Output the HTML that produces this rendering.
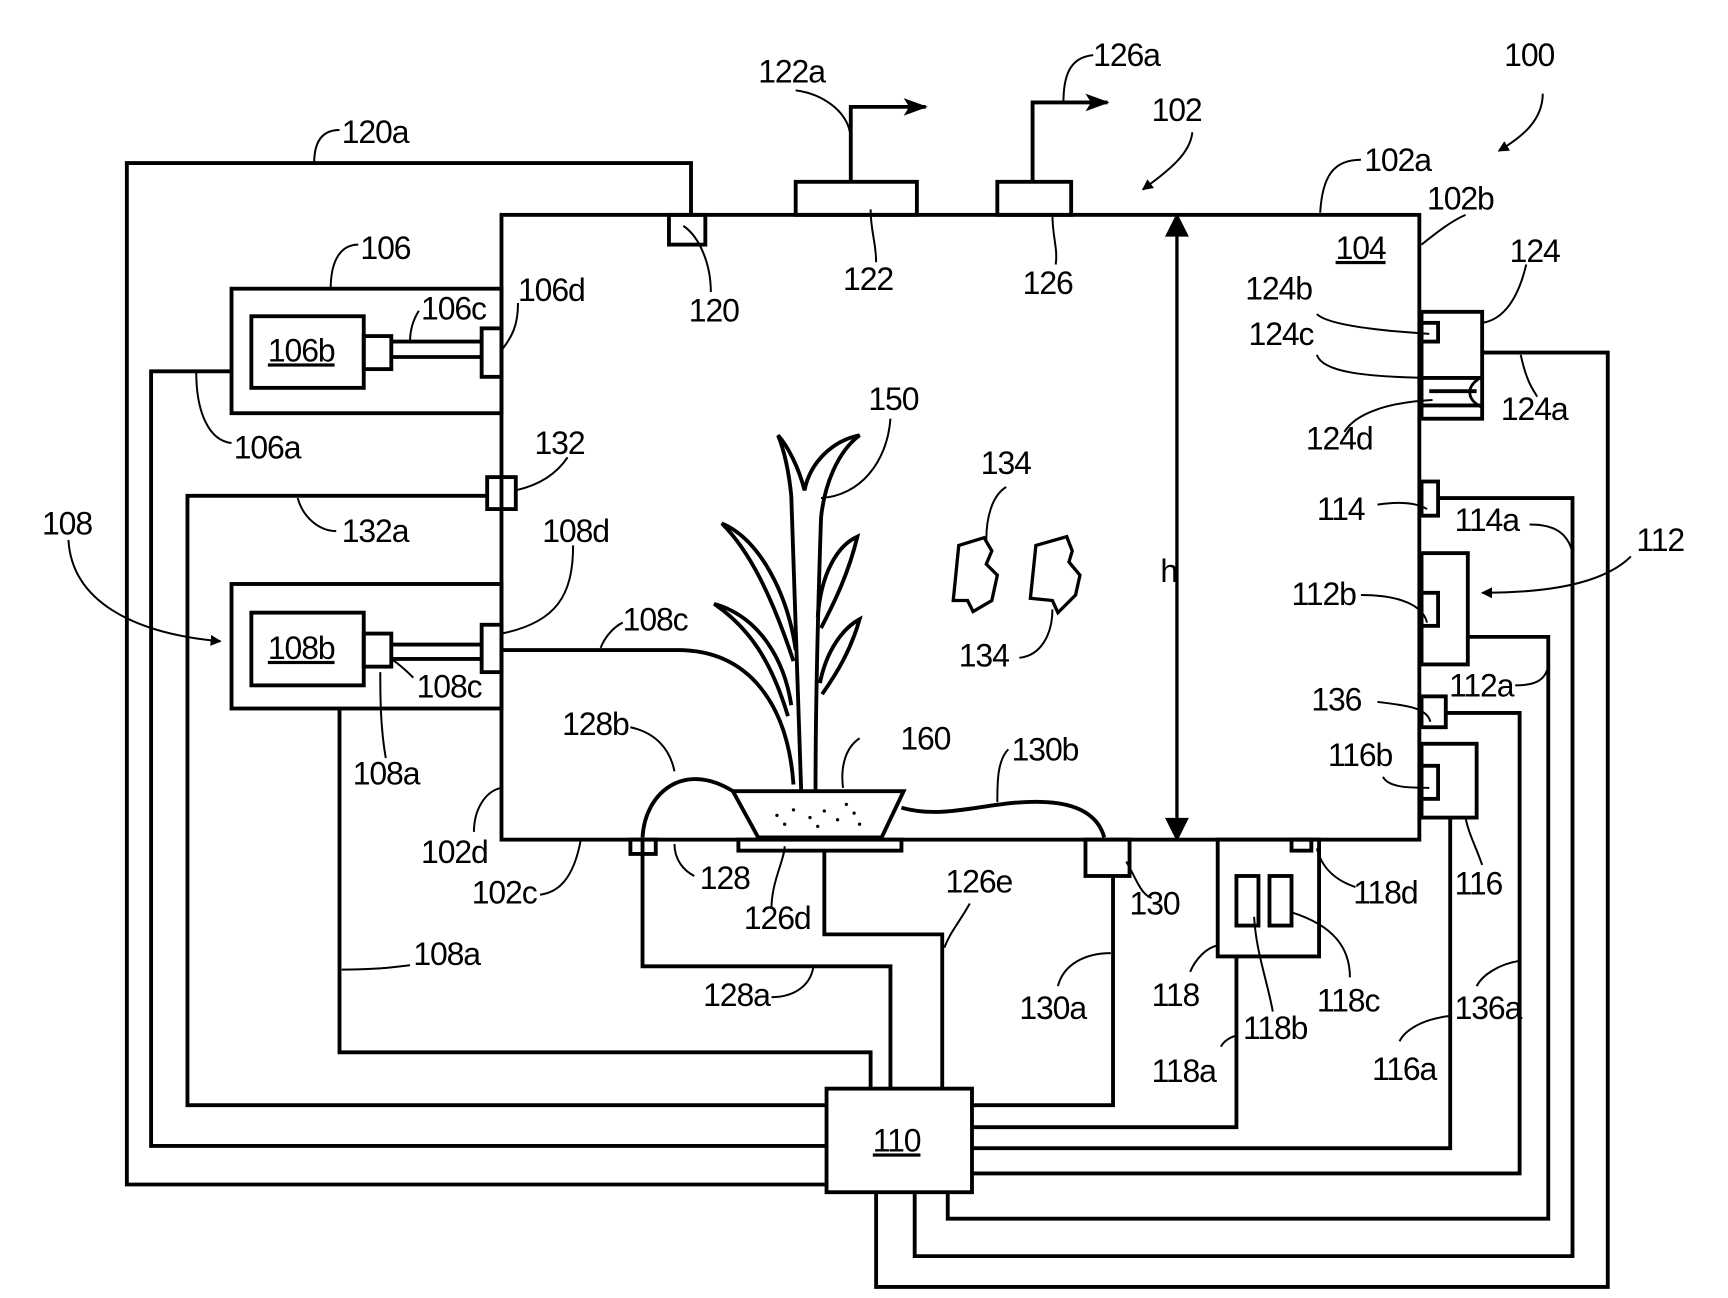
<!DOCTYPE html>
<html><head><style>html,body{margin:0;padding:0;background:#fff}svg{display:block}</style></head><body>
<svg width="1728" height="1298" viewBox="0 0 1568 1178" xmlns="http://www.w3.org/2000/svg">
<defs><marker id="ah" markerWidth="10" markerHeight="10" refX="9" refY="5" orient="auto" markerUnits="userSpaceOnUse"><path d="M0,0 L10,5 L0,10 Z" fill="#000"/></marker>
<marker id="ah2" markerWidth="22" markerHeight="16" refX="20" refY="8" orient="auto" markerUnits="userSpaceOnUse"><path d="M0,0 L22,8 L0,16 L5,8 Z" fill="#000"/></marker></defs>
<g fill="none" stroke="#000" stroke-width="3.5">
<rect x="455" y="195" width="833" height="567"/>
<rect x="722" y="165" width="110" height="30"/>
<rect x="905" y="165" width="67" height="30"/>
<path d="M772,165 V97 H840" marker-end="url(#ah2)"/>
<path d="M937,165 V93 H1005" marker-end="url(#ah2)"/>
<rect x="607" y="195" width="33" height="27"/>
<path d="M627,195 V148 H115 V1075 H750"/>
<rect x="750" y="988" width="132" height="94"/>
<rect x="210" y="262" width="245" height="113"/>
<rect x="228" y="287" width="102" height="65"/>
<rect x="330" y="305" width="25" height="30"/>
<path d="M355,310 H437 M355,324 H437"/>
<rect x="437" y="298" width="18" height="44"/>
<path d="M210,337 H137 V1040 H750"/>
<rect x="442" y="433" width="26" height="29"/>
<path d="M442,450 H170 V1003 H750"/>
<rect x="210" y="530" width="245" height="113"/>
<rect x="228" y="556" width="102" height="66"/>
<rect x="330" y="575" width="25" height="30"/>
<path d="M355,585 H437 M355,598 H437"/>
<rect x="437" y="567" width="18" height="43"/>
<path d="M308,643 V955 H790 V988"/>
<path d="M455,590 H615 C680,590 715,640 720,712"/>
<path d="M583,762 V877 H808 V988"/>
<rect x="572" y="762" width="23" height="13"/>
<rect x="670" y="762" width="148" height="10"/>
<path d="M748,772 V848 H855 V988"/>
<rect x="985" y="762" width="40" height="33"/>
<path d="M1010,795 V1003 H882"/>
<rect x="1105" y="762" width="92" height="106"/>
<rect x="1122" y="795" width="20" height="45"/>
<rect x="1152" y="795" width="20" height="45"/>
<rect x="1172" y="762" width="18" height="10"/>
<path d="M1122,868 V1023 H882"/>
<rect x="1290" y="675" width="50" height="67"/>
<rect x="1290" y="695" width="15" height="30"/>
<path d="M1316,742 V1042 H882"/>
<rect x="1290" y="632" width="22" height="28"/>
<path d="M1312,647 H1379 V1065 H882"/>
<rect x="1290" y="502" width="42" height="101"/>
<rect x="1290" y="538" width="15" height="30"/>
<path d="M1332,578 H1405 V1106 H860 V1082"/>
<rect x="1290" y="437" width="15" height="31"/>
<path d="M1305,452 H1427 V1140 H830 V1082"/>
<rect x="1290" y="283" width="55" height="97"/>
<rect x="1290" y="293" width="15" height="17"/>
<path d="M1290,343 H1345 M1297,355 H1340 M1290,368 H1345"/>
<path d="M1345,342 C1330,350 1330,362 1345,370" stroke-width="2.5"/>
<path d="M1345,320 H1459 V1168 H795 V1082"/>
<path d="M1068,200 V755" stroke-width="3"/>
<path d="M1068,197 l-8,16 h16 z M1068,760 l-8,-16 h16 z" fill="#000"/>
<path d="M665,718 H820 L800,760 H688 Z"/>
<path d="M583,760 C585,720 620,690 665,718"/>
<path d="M818,733 C860,745 900,725 950,728 C985,730 998,745 1002,760"/>
<path d="M727,718 C725,650 722,560 718,450 C716,430 712,410 706,395 C715,405 725,425 730,445 C735,420 755,400 780,395 C760,410 748,440 745,470 C742,560 740,650 740,718"/>
<path d="M720,600 C700,540 680,500 655,475 C690,490 715,540 722,590"/>
<path d="M715,650 C700,600 680,570 648,548 C690,560 712,600 718,640"/>
<path d="M742,560 C745,520 760,495 778,487 C770,520 758,545 745,570"/>
<path d="M744,620 C750,590 765,570 780,562 C772,590 760,610 746,630"/>
<path d="M870,495 L893,488 L900,500 L895,512 L905,522 L900,545 L883,555 L878,545 L865,545 Z" stroke-width="3"/>
<path d="M940,495 L968,487 L973,500 L970,510 L980,522 L976,540 L960,556 L955,545 L935,543 Z" stroke-width="3"/>
</g>
<g fill="#000">
<circle cx="705" cy="740" r="1.5"/><circle cx="720" cy="735" r="1.5"/><circle cx="735" cy="742" r="1.5"/><circle cx="748" cy="736" r="1.5"/><circle cx="760" cy="744" r="1.5"/><circle cx="775" cy="738" r="1.5"/><circle cx="712" cy="748" r="1.5"/><circle cx="742" cy="750" r="1.5"/><circle cx="768" cy="730" r="1.5"/><circle cx="780" cy="748" r="1.5"/>
</g>
<g fill="none" stroke="#000" stroke-width="1.8">
<path d="M1400,85 C1400,110 1380,125 1360,137" marker-end="url(#ah)"/>
<path d="M1082,120 C1080,140 1060,155 1037,172" marker-end="url(#ah)"/>
<path d="M62,490 C65,545 120,575 200,582" marker-end="url(#ah)"/>
<path d="M1480,505 C1460,525 1420,538 1345,538" marker-end="url(#ah)"/>
<path d="M992,50 C970,52 965,70 965,93"/>
<path d="M722,82 C745,85 770,100 772,125"/>
<path d="M308,118 C295,118 285,125 285,148"/>
<path d="M325,222 C310,222 300,235 300,262"/>
<path d="M380,282 C375,290 372,300 372,310"/>
<path d="M470,275 C470,295 465,305 455,318"/>
<path d="M210,402 C190,400 178,375 178,338"/>
<path d="M515,415 C505,430 490,440 468,445"/>
<path d="M305,482 C290,482 275,470 270,452"/>
<path d="M520,495 C520,540 505,565 455,575"/>
<path d="M565,565 C555,570 548,580 545,588"/>
<path d="M375,615 C365,605 358,600 355,598"/>
<path d="M350,688 C345,660 345,630 345,610"/>
<path d="M572,660 C595,665 608,680 612,700"/>
<path d="M780,670 C765,680 763,700 765,715"/>
<path d="M915,680 C905,690 905,710 905,728"/>
<path d="M455,715 C440,718 430,735 430,755"/>
<path d="M490,812 C505,810 520,800 527,762"/>
<path d="M630,795 C620,790 612,780 612,766"/>
<path d="M700,825 C700,800 712,780 712,768"/>
<path d="M880,820 C870,838 862,846 857,860"/>
<path d="M700,905 C720,905 735,895 738,878"/>
<path d="M372,876 C355,878 340,880 310,880"/>
<path d="M960,895 C965,875 985,865 1008,865"/>
<path d="M1045,815 C1035,812 1030,795 1022,782"/>
<path d="M1230,805 C1215,800 1200,790 1195,770"/>
<path d="M1080,882 C1085,870 1095,860 1105,858"/>
<path d="M1108,950 C1110,945 1118,940 1123,940"/>
<path d="M1155,918 C1150,890 1140,865 1138,832"/>
<path d="M1225,887 C1225,860 1210,840 1172,828"/>
<path d="M1270,945 C1275,935 1290,925 1316,922"/>
<path d="M1340,895 C1345,885 1360,875 1379,872"/>
<path d="M1220,392 C1230,375 1260,365 1300,363"/>
<path d="M1195,322 C1200,338 1240,342 1297,343"/>
<path d="M1195,285 C1205,295 1250,300 1297,303"/>
<path d="M1385,240 C1378,270 1365,290 1345,293"/>
<path d="M1380,322 C1385,345 1390,352 1395,360"/>
<path d="M1330,195 C1318,200 1305,210 1290,222"/>
<path d="M1235,145 C1210,145 1200,160 1198,193"/>
<path d="M1250,458 C1270,455 1285,456 1295,462"/>
<path d="M1388,476 C1405,476 1420,480 1426,498"/>
<path d="M1235,540 C1260,540 1290,545 1295,565"/>
<path d="M1375,622 C1388,622 1400,620 1404,608"/>
<path d="M1250,637 C1275,640 1295,642 1298,655"/>
<path d="M1255,705 C1260,715 1280,715 1297,715"/>
<path d="M1345,785 C1340,770 1332,755 1330,742"/>
<path d="M790,190 C790,210 795,220 795,238"/>
<path d="M955,195 C955,215 960,225 958,240"/>
<path d="M620,205 C635,215 645,240 645,265"/>
<path d="M808,380 C805,420 780,450 745,452"/>
<path d="M913,442 C900,450 895,470 895,490"/>
<path d="M925,597 C945,595 955,575 955,553"/>
</g>
<g font-family="Liberation Sans, sans-serif" font-size="29" fill="#000" letter-spacing="-1">
<text x="1365" y="60">100</text>
<text x="1045" y="110">102</text>
<text x="992" y="60">126a</text>
<text x="688" y="75">122a</text>
<text x="310" y="130">120a</text>
<text x="327" y="235">106</text>
<text x="382" y="290">106c</text>
<text x="470" y="273">106d</text>
<text x="243" y="328" text-decoration="underline">106b</text>
<text x="212" y="416">106a</text>
<text x="485" y="412">132</text>
<text x="310" y="492">132a</text>
<text x="38" y="485">108</text>
<text x="492" y="492">108d</text>
<text x="565" y="572">108c</text>
<text x="243" y="598" text-decoration="underline">108b</text>
<text x="378" y="633">108c</text>
<text x="320" y="712">108a</text>
<text x="510" y="667">128b</text>
<text x="382" y="783">102d</text>
<text x="428" y="820">102c</text>
<text x="635" y="807">128</text>
<text x="675" y="843">126d</text>
<text x="858" y="810">126e</text>
<text x="375" y="876">108a</text>
<text x="638" y="913">128a</text>
<text x="925" y="925">130a</text>
<text x="1025" y="830">130</text>
<text x="1045" y="913">118</text>
<text x="1045" y="982">118a</text>
<text x="1128" y="943">118b</text>
<text x="1195" y="918">118c</text>
<text x="1228" y="820">118d</text>
<text x="1245" y="980">116a</text>
<text x="1320" y="925">136a</text>
<text x="1320" y="812">116</text>
<text x="1205" y="695">116b</text>
<text x="1190" y="645">136</text>
<text x="1315" y="632">112a</text>
<text x="1172" y="549">112b</text>
<text x="1485" y="500">112</text>
<text x="1195" y="472">114</text>
<text x="1320" y="482">114a</text>
<text x="1185" y="408">124d</text>
<text x="1362" y="381">124a</text>
<text x="1133" y="313">124c</text>
<text x="1130" y="272">124b</text>
<text x="1370" y="238">124</text>
<text x="1295" y="190">102b</text>
<text x="1238" y="155">102a</text>
<text x="1212" y="235" text-decoration="underline">104</text>
<text x="765" y="263">122</text>
<text x="928" y="267">126</text>
<text x="625" y="292">120</text>
<text x="788" y="372">150</text>
<text x="890" y="430">134</text>
<text x="870" y="605">134</text>
<text x="817" y="680">160</text>
<text x="918" y="690">130b</text>
<text x="1053" y="528">h</text>
<text x="792" y="1045" text-decoration="underline">110</text>
</g>
</svg>
</body></html>
